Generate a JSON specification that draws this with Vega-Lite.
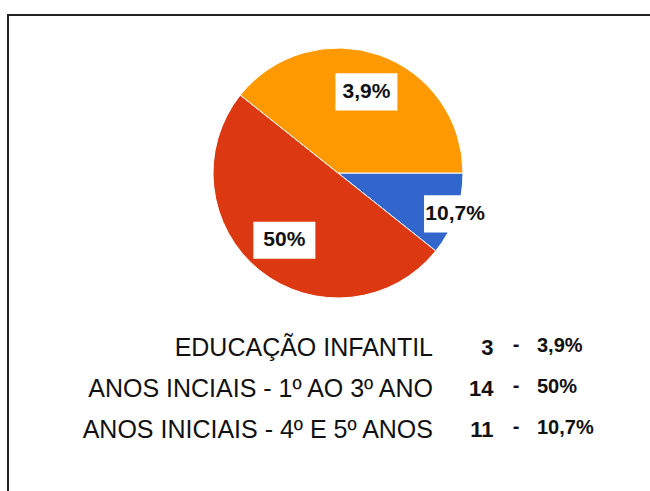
{
  "$schema": "https://vega.github.io/schema/vega-lite/v6.json",
  "width": 660,
  "height": 500,
  "autosize": {"type": "none"},
  "padding": {"left": 8, "top": 15, "right": 0, "bottom": 0},
  "background": "white",
  "config": {"view": {"stroke": "#222222", "strokeWidth": 2}, "font": "Liberation Sans"},
  "data": {"values": [
    {"categoria": "EDUCAÇÃO INFANTIL", "quantidade": 3, "percentual": "3,9%", "rotulo": "10,7%"},
    {"categoria": "ANOS INCIAIS - 1º AO 3º ANO", "quantidade": 14, "percentual": "50%", "rotulo": "50%"},
    {"categoria": "ANOS INICIAIS - 4º E 5º ANOS", "quantidade": 11, "percentual": "10,7%", "rotulo": "3,9%"}
  ]},
  "transform": [
    {"window": [{"op": "row_number", "as": "ordem"}]},
    {"joinaggregate": [{"op": "sum", "field": "quantidade", "as": "total"}]},
    {"window": [{"op": "sum", "field": "quantidade", "as": "acum"}], "sort": [{"field": "ordem"}], "frame": [null, 0]},
    {"calculate": "(datum.acum - datum.quantidade/2)/datum.total", "as": "meio"},
    {"calculate": "PI/2 + 2*PI*datum.meio", "as": "ang"},
    {"calculate": "datum.quantidade/datum.total < 0.2 ? 124 : 86", "as": "rl"},
    {"calculate": "datum.rl*sin(datum.ang)", "as": "lx"},
    {"calculate": "datum.rl*cos(datum.ang)", "as": "ly"}
  ],
  "layer": [
    {
      "layer": [
        {
          "mark": {"type": "arc", "outerRadius": 125, "y": 158, "stroke": "white", "strokeWidth": 1},
          "encoding": {
            "theta": {"field": "quantidade", "type": "quantitative", "stack": true, "scale": {"range": [1.5708, 7.854]}},
            "order": {"field": "ordem", "type": "quantitative"},
            "color": {
              "field": "categoria",
              "type": "nominal",
              "scale": {
                "domain": ["EDUCAÇÃO INFANTIL", "ANOS INCIAIS - 1º AO 3º ANO", "ANOS INICIAIS - 4º E 5º ANOS"],
                "range": ["#3366cc", "#dc3912", "#ff9900"]
              },
              "legend": null
            }
          }
        },
        {
          "mark": {"type": "point", "shape": "M-1,-0.6H1V0.6H-1Z", "filled": true, "fill": "white", "opacity": 1, "size": 3844, "strokeWidth": 0},
          "encoding": {
            "x": {"field": "lx", "type": "quantitative", "scale": {"domain": [-330, 330], "nice": false, "zero": false}, "axis": null},
            "y": {"field": "ly", "type": "quantitative", "scale": {"domain": [-342, 158], "nice": false, "zero": false}, "axis": null}
          }
        },
        {
          "mark": {"type": "text", "fontSize": 21, "fontWeight": "bold", "color": "#111111", "baseline": "middle", "align": "center"},
          "encoding": {
            "x": {"field": "lx", "type": "quantitative"},
            "y": {"field": "ly", "type": "quantitative"},
            "text": {"field": "rotulo"}
          }
        }
      ]
    },
    {
      "encoding": {
        "y": {
          "field": "categoria",
          "type": "nominal",
          "scale": {
            "type": "point",
            "padding": 0,
            "domain": ["EDUCAÇÃO INFANTIL", "ANOS INCIAIS - 1º AO 3º ANO", "ANOS INICIAIS - 4º E 5º ANOS"],
            "range": [333, 415]
          },
          "axis": null
        }
      },
      "layer": [
        {
          "mark": {"type": "text", "align": "right", "baseline": "middle", "fontSize": 25, "color": "#111111"},
          "encoding": {
            "x": {"datum": "rotulo", "type": "nominal", "scale": {"type": "point", "padding": 0, "domain": ["rotulo", "e1", "e2", "n", "traco", "pct"], "range": [425, 529]}, "axis": null},
            "text": {"field": "categoria"}
          }
        },
        {
          "mark": {"type": "text", "align": "right", "baseline": "middle", "fontSize": 22, "fontWeight": "bold", "color": "#111111", "dx": -2},
          "encoding": {
            "x": {"datum": "n", "type": "nominal"},
            "text": {"field": "quantidade"}
          }
        },
        {
          "mark": {"type": "text", "align": "center", "baseline": "middle", "fontSize": 20, "fontWeight": "bold", "color": "#111111", "text": "-", "dy": -3},
          "encoding": {
            "x": {"datum": "traco", "type": "nominal"}
          }
        },
        {
          "mark": {"type": "text", "align": "left", "baseline": "middle", "fontSize": 20, "fontWeight": "bold", "color": "#111111", "dy": -2},
          "encoding": {
            "x": {"datum": "pct", "type": "nominal"},
            "text": {"field": "percentual"}
          }
        }
      ]
    }
  ],
  "resolve": {"scale": {"x": "independent", "y": "independent"}}
}
